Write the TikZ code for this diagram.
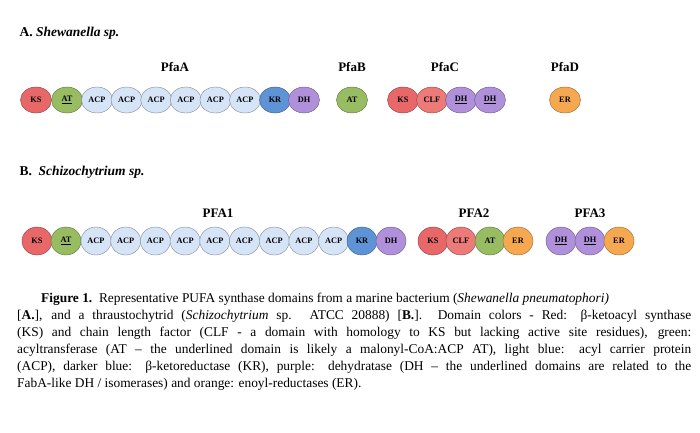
\documentclass[tikz,border=0pt]{standalone}
\usepackage{fontspec}
\setmainfont{Liberation Serif}
\usetikzlibrary{shapes.geometric}
\begin{document}
\begin{tikzpicture}[x=1pt,y=-1pt,
  dom/.style={ellipse,draw=#1!60!black,fill=#1,minimum width=31pt,minimum height=26pt,inner sep=0pt,font=\fontsize{8.3}{9}\selectfont\bfseries},
  domb/.style={dom=#1,minimum width=30pt,minimum height=28pt},
  hdr/.style={font=\fontsize{13}{15}\selectfont\bfseries},
  ttl/.style={font=\fontsize{13.5}{15}\selectfont\bfseries,anchor=west}]
\definecolor{ks}{HTML}{E8686A}
\definecolor{clf}{HTML}{EC7A78}
\definecolor{at}{HTML}{98BC62}
\definecolor{acp}{HTML}{D6E4F8}
\definecolor{kr}{HTML}{5E94D6}
\definecolor{dh}{HTML}{B090DA}
\definecolor{er}{HTML}{F6A850}
\useasboundingbox (0,0) rectangle (700,432);
\node[ttl] (ta) at (16,33) {A. \textit{Shewanella sp.}};
\node[hdr] (ha) at (175,67) {PfaA};
\node[hdr] (hb) at (352,67) {PfaB};
\node[hdr] (hc) at (445,67) {PfaC};
\node[hdr] (hd) at (565,67) {PfaD};
\node[dom=ks] (a1) at (36,100) {KS};
\node[dom=at] (a2) at (67,100) {\underline{AT}};
\foreach \i in {0,...,5}{\node[dom=acp] (acp\i) at (97+29.6*\i,100) {ACP};}
\node[dom=kr] (akr) at (275,100) {KR};
\node[dom=dh] (adh) at (304,100) {DH};
\node[dom=at] (bat) at (352,100) {AT};
\node[dom=ks] (cks) at (403,100) {KS};
\node[dom=clf] (cclf) at (432,100) {CLF};
\node[dom=dh] (cdh1) at (461,100) {\underline{DH}};
\node[dom=dh] (cdh2) at (490,100) {\underline{DH}};
\node[dom=er] (der) at (565,100) {ER};
\node[ttl] (tb) at (16,172) {B.\ \ \textit{Schizochytrium sp.}};
\node[hdr] (h1) at (218,213) {PFA1};
\node[hdr] (h2) at (474,213) {PFA2};
\node[hdr] (h3) at (590,213) {PFA3};
\node[domb=ks] (b1) at (37,241) {KS};
\node[domb=at] (b2) at (66,241) {\underline{AT}};
\foreach \i in {0,...,8}{\node[domb=acp] (bacp\i) at (96+29.7*\i,241) {ACP};}
\node[domb=kr] (bkr) at (362,241) {KR};
\node[domb=dh] (bdh) at (391,241) {DH};
\node[domb=ks] (pks) at (433,241) {KS};
\node[domb=clf] (pclf) at (461,241) {CLF};
\node[domb=at] (pat) at (490,241) {AT};
\node[domb=er] (per) at (518,241) {ER};
\node[domb=dh] (qdh1) at (561,241) {\underline{DH}};
\node[domb=dh] (qdh2) at (590,241) {\underline{DH}};
\node[domb=er] (qer) at (619,241) {ER};
\node[anchor=north west,text width=674pt,align=justify,inner sep=0pt,font=\fontsize{13.4}{17}\selectfont] (cap) at (17,293) {\hspace*{24pt}\textbf{Figure 1.}\ \ Representative PUFA synthase domains from a marine bacterium (\textit{Shewanella pneumatophori)}\hfill\null\linebreak{}%
{[}\textbf{A.}], and a thraustochytrid (\textit{Schizochytrium} sp. ATCC 20888) [\textbf{B.}].\ \ Domain colors - Red: β-ketoacyl synthase\linebreak{}%
(KS) and chain length factor (CLF - a domain with homology to KS but lacking active site residues), green:\linebreak{}%
acyltransferase (AT – the underlined domain is likely a malonyl-CoA:ACP AT), light blue: acyl carrier protein\linebreak{}%
(ACP), darker blue: β-ketoreductase (KR), purple: dehydratase (DH – the underlined domains are related to the\linebreak{}%
FabA-like DH / isomerases) and orange: enoyl-reductases (ER).};
\end{tikzpicture}
\end{document}
